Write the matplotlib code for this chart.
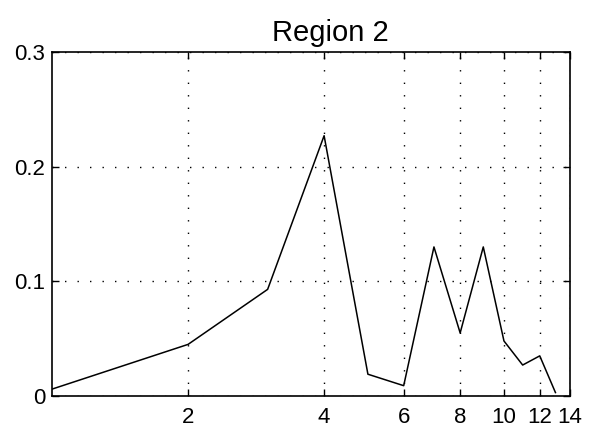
import matplotlib.pyplot as plt
from matplotlib.ticker import FixedLocator, NullLocator, FixedFormatter

plt.rcParams["font.family"] = ["Liberation Sans", "DejaVu Sans"]

# data
x_vals = [1, 2, 3, 4, 5, 6, 7, 8, 9, 10, 11, 12, 13]
y_vals = [0.006, 0.045, 0.093, 0.227, 0.019, 0.009, 0.130, 0.055, 0.130,
          0.048, 0.027, 0.035, 0.003]
x_ticks = [2, 4, 6, 8, 10, 12, 14]
y_ticks = [0, 0.1, 0.2, 0.3]
y_labels = ["0", "0.1", "0.2", "0.3"]

fig = plt.figure(figsize=(6, 4.41), dpi=100)
ax = fig.add_axes([52 / 600, 1 - 396 / 441, 518 / 600, 344 / 441])

ax.plot(x_vals, y_vals, color="black", linewidth=1.1)

ax.set_xscale("log")
ax.set_xlim(1, 14)
ax.set_ylim(0, 0.3)
ax.xaxis.set_major_locator(FixedLocator(x_ticks))
ax.xaxis.set_major_formatter(FixedFormatter([str(t) for t in x_ticks]))
ax.xaxis.set_minor_locator(NullLocator())
ax.set_yticks(y_ticks)
ax.set_yticklabels(y_labels)

ax.tick_params(direction="in", top=True, right=True, labelsize=16, length=5, width=1)
ax.tick_params(axis="x", pad=8)
ax.tick_params(axis="y", pad=5)
ax.grid(True, color="black", linestyle=(0, (1, 8)), linewidth=1.0)
for s in ax.spines.values():
    s.set_linewidth(1.2)

ax.set_title("Region 2", fontsize=21, pad=8, x=0.537)

fig.savefig("out.png", dpi=100)
